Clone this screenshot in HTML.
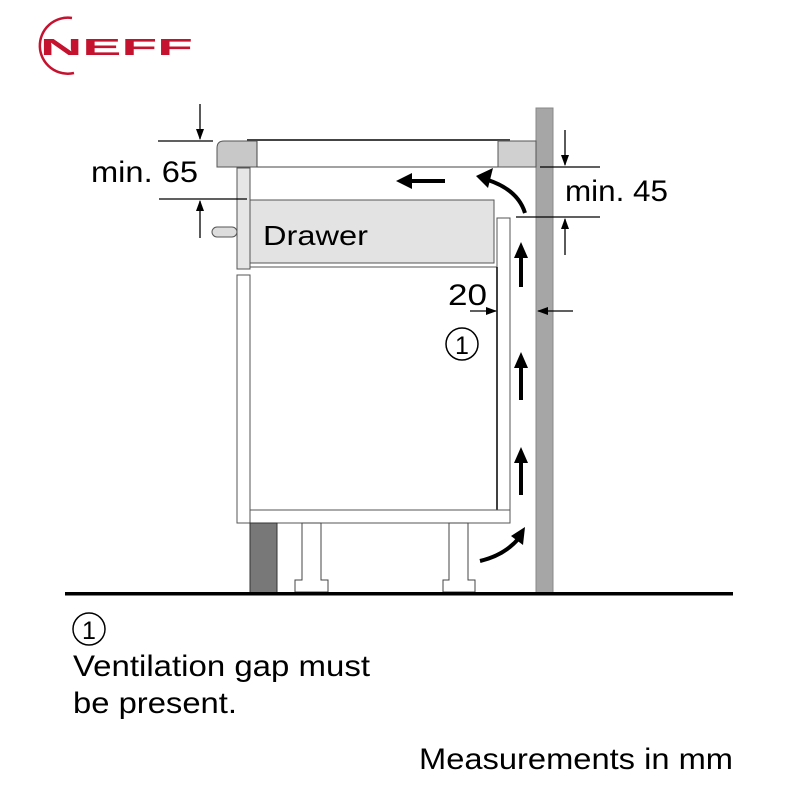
<!DOCTYPE html>
<html><head><style>body{margin:0;background:#fff}</style></head><body>
<svg width="800" height="800" viewBox="0 0 800 800" xmlns="http://www.w3.org/2000/svg" font-family="Liberation Sans, sans-serif">
<defs><marker id="a" markerWidth="11" markerHeight="8" refX="10" refY="4" orient="auto" markerUnits="userSpaceOnUse" viewBox="0 0 11 8"><path d="M0,0L11,4L0,8z" fill="#000"/></marker></defs>
<path d="M72,18 A28,28 0 1 0 74,73" fill="none" stroke="#c4122f" stroke-width="2.5"/>
<text x="40" y="55" font-size="23" font-weight="bold" fill="#c4122f" textLength="153" lengthAdjust="spacingAndGlyphs">NEFF</text>
<rect x="536" y="108" width="17" height="485" fill="#a6a6a6" stroke="#888" stroke-width="1"/>
<path d="M224,141 H257 V167 H217 V148 Q217,141 224,141Z" fill="#c8c8c8" stroke="#555"/>
<rect x="257" y="140" width="241" height="27" fill="#fff" stroke="#444"/>
<line x1="247" y1="140" x2="510" y2="140" stroke="#444" stroke-width="2"/>
<rect x="498" y="141" width="38" height="26" fill="#d0d0d0" stroke="#555"/>
<rect x="237" y="168" width="13" height="101" fill="#e6e6e6" stroke="#555"/>
<rect x="212" y="227" width="25" height="10" rx="5" fill="#ddd" stroke="#555"/>
<rect x="250" y="200" width="244" height="63" fill="#e3e3e3" stroke="#555"/>
<line x1="250" y1="267" x2="497" y2="267" stroke="#555"/>
<text x="263" y="245" font-size="28" textLength="105" lengthAdjust="spacingAndGlyphs">Drawer</text>
<rect x="237" y="275" width="13" height="248" fill="#fff" stroke="#555"/>
<rect x="497" y="218" width="13" height="292" fill="#fff" stroke="#555"/>
<line x1="497" y1="267" x2="497" y2="510" stroke="#000" stroke-width="1.5"/>
<rect x="250" y="510" width="260" height="13" fill="#fff" stroke="#555"/>
<rect x="250" y="523" width="27" height="70" fill="#787878" stroke="#333"/>
<path d="M302,523 H321 V580 H328 V592 H295 V580 H302Z" fill="#fff" stroke="#444"/>
<path d="M449,523 H468 V580 H475 V592 H443 V580 H449Z" fill="#fff" stroke="#444"/>
<rect x="65" y="592" width="668" height="3.5" fill="#000"/>
<g stroke="#000" stroke-width="4" fill="none">
<line x1="521" y1="287" x2="521" y2="255"/>
<line x1="521" y1="400" x2="521" y2="365"/>
<line x1="521" y1="495" x2="521" y2="460"/>
<line x1="445" y1="181" x2="408" y2="181"/>
<path d="M525,213 Q518,190 488,180"/>
<path d="M480,561 Q505,555 519,538"/>
</g>
<g fill="#000"><path d="M396,181 L412,173 L412,189Z"/><path d="M476,176 L493,168 L488,188Z"/><path d="M525,527 L523,545 L511,536Z"/>
<path d="M521,242 L514,258 L528,258Z"/><path d="M521,352 L514,368 L528,368Z"/><path d="M521,447 L514,463 L528,463Z"/></g>
<g stroke="#000" stroke-width="1.3">
<line x1="158" y1="141" x2="213" y2="141"/><line x1="159" y1="199" x2="247" y2="199"/>
<line x1="200" y1="104" x2="200" y2="139" marker-end="url(#a)"/>
<line x1="200" y1="238" x2="200" y2="201" marker-end="url(#a)"/>
<line x1="540" y1="167" x2="600" y2="167"/><line x1="516" y1="217" x2="600" y2="217"/>
<line x1="565" y1="130" x2="565" y2="165" marker-end="url(#a)"/>
<line x1="565" y1="255" x2="565" y2="219" marker-end="url(#a)"/>
<line x1="470" y1="311" x2="496" y2="311" marker-end="url(#a)"/>
<line x1="573" y1="311" x2="538" y2="311" marker-end="url(#a)"/>
</g>
<g font-size="30" fill="#000">
<text x="91" y="182" textLength="107" lengthAdjust="spacingAndGlyphs">min. 65</text>
<text x="565" y="201" textLength="103" lengthAdjust="spacingAndGlyphs">min. 45</text>
<text x="448" y="305" textLength="39" lengthAdjust="spacingAndGlyphs">20</text>
<circle cx="462" cy="344" r="16" fill="none" stroke="#000" stroke-width="1.5"/>
<text x="462" y="354" text-anchor="middle" font-size="25">1</text>
<circle cx="89" cy="629" r="16" fill="none" stroke="#000" stroke-width="1.5"/>
<text x="89" y="639" text-anchor="middle" font-size="25">1</text>
<text x="73" y="676" textLength="297" lengthAdjust="spacingAndGlyphs">Ventilation gap must</text>
<text x="73" y="713" textLength="164" lengthAdjust="spacingAndGlyphs">be present.</text>
<text x="419" y="769" textLength="314" lengthAdjust="spacingAndGlyphs">Measurements in mm</text>
</g>
</svg>
</body></html>
